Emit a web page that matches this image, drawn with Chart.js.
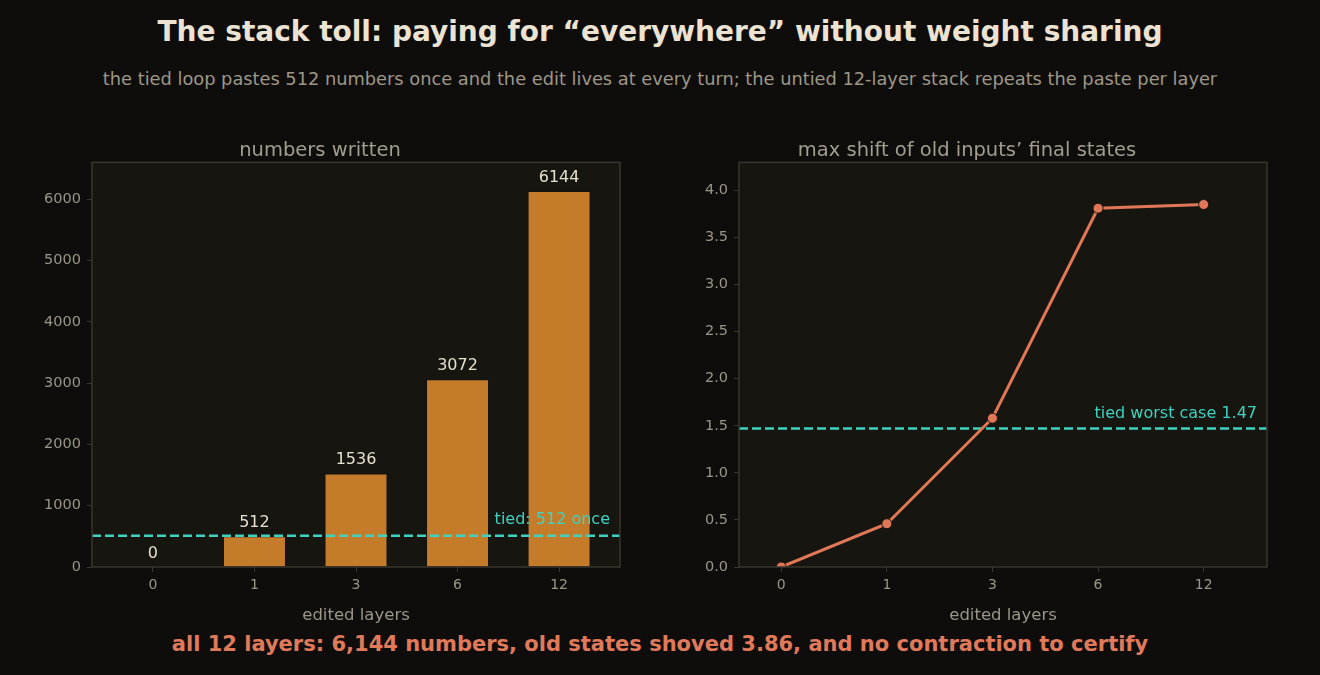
<!DOCTYPE html>
<html>
<head>
<meta charset="utf-8">
<script src="https://cdn.jsdelivr.net/npm/chart.js@4.4.1/dist/chart.umd.min.js"></script>
<style>
  html, body { margin: 0; padding: 0; background: #0e0d0b; width: 1320px; height: 675px; overflow: hidden; font-family: "DejaVu Sans", sans-serif; }
  .txt { position: absolute; left: 0; width: 1320px; text-align: center; white-space: nowrap; }
  #title { top: 15px; font-size: 28px; font-weight: bold; color: #ece3d2; }
  #subtitle { top: 68px; font-size: 17.8px; color: #9e9787; }
  #footer { top: 632px; font-size: 21px; font-weight: bold; color: #e07a5a; }
  .box { position: absolute; top: 135px; width: 610px; height: 495px; }
</style>
</head>
<body>
<div id="title" class="txt">The stack toll: paying for “everywhere” without weight sharing</div>
<div id="subtitle" class="txt">the tied loop pastes 512 numbers once and the edit lives at every turn; the untied 12-layer stack repeats the paste per layer</div>
<div class="box" style="left:20px"><canvas id="left"></canvas></div>
<div class="box" style="left:667px"><canvas id="right"></canvas></div>
<div id="footer" class="txt">all 12 layers: 6,144 numbers, old states shoved 3.86, and no contraction to certify</div>
<script>
const layers = ['0', '1', '3', '6', '12'];
const numbersWritten = [0, 512, 1536, 3072, 6144];
const maxShift = [0, 0.46, 1.58, 3.81, 3.85];
const tiedNumbers = 512;
const tiedWorst = 1.47;
const leftTicks = [0, 1000, 2000, 3000, 4000, 5000, 6000];
const rightTicks = [0, 0.5, 1.0, 1.5, 2.0, 2.5, 3.0, 3.5, 4.0];

const FONT = '"DejaVu Sans", sans-serif';
const tickCol = '#9c9688';
const frameCol = '#3a362e';
const teal = '#3dd3c0';

const panel = {
  id: 'panel',
  beforeDraw(chart) {
    const a = chart.chartArea, c = chart.ctx;
    c.save();
    c.fillStyle = '#16150f';
    c.fillRect(a.left, a.top, a.right - a.left, a.bottom - a.top);
    c.restore();
  },
  afterDraw(chart) {
    const a = chart.chartArea, c = chart.ctx;
    c.save();
    c.strokeStyle = frameCol;
    c.lineWidth = 1.5;
    c.strokeRect(a.left, a.top, a.right - a.left, a.bottom - a.top);
    const notes = chart.options.plugins.panel.notes || [];
    notes.forEach(n => {
      c.font = n.font;
      c.fillStyle = n.color;
      c.textAlign = n.align;
      c.textBaseline = 'alphabetic';
      const x = n.xRight ? a.right - 10 : chart.scales.x.getPixelForValue(n.x);
      c.fillText(n.text, x, chart.scales.y.getPixelForValue(n.y) - n.dy);
    });
    c.restore();
  }
};

function xScale(min, max) {
  return {
    type: 'linear', min: min, max: max, offset: false,
    afterBuildTicks: s => { s.ticks = layers.map((_, i) => ({ value: i })); },
    afterFit: s => { s.height = 63; },
    ticks: { color: tickCol, font: { family: FONT, size: 14 }, padding: 5, callback: v => layers[v] },
    grid: { display: true, drawOnChartArea: false, drawTicks: true, tickLength: 5, color: frameCol, offset: false },
    border: { display: false },
    title: { display: true, text: 'edited layers', color: tickCol, font: { family: FONT, size: 16.5 }, padding: { top: 0 } }
  };
}

function yScale(max, list, fmt) {
  return {
    type: 'linear', min: 0, max: max,
    afterBuildTicks: s => { s.ticks = list.map(v => ({ value: v })); },
    afterFit: s => { s.width = 72; },
    ticks: { color: tickCol, font: { family: FONT, size: 14.5 }, padding: 6, callback: fmt },
    grid: { display: true, drawOnChartArea: false, drawTicks: true, tickLength: 5, color: frameCol },
    border: { display: false }
  };
}

function titleOpt(text) {
  return { display: true, text: text, color: '#a39d8e', font: { family: FONT, size: 19.5, weight: 'normal' }, padding: { top: 4, bottom: 0 } };
}

const idx = layers.map((_, i) => i);

new Chart(document.getElementById('left'), {
  type: 'bar',
  data: {
    datasets: [
      {
        type: 'line',
        data: [{ x: -0.6, y: tiedNumbers }, { x: 4.6, y: tiedNumbers }],
        borderColor: teal, borderWidth: 2.5, borderDash: [9, 4], pointRadius: 0, order: 0
      },
      {
        data: idx.map(i => ({ x: i, y: numbersWritten[i] })),
        backgroundColor: '#c47c2b', borderColor: '#15130f', borderWidth: 1.5,
        barPercentage: 0.63, categoryPercentage: 1, order: 1
      }
    ]
  },
  options: {
    responsive: true, maintainAspectRatio: false, animation: false,
    layout: { padding: { right: 10, left: 0, top: 0, bottom: 0 } },
    scales: { x: xScale(-0.6, 4.6), y: yScale(6603, leftTicks, v => String(Math.round(v))) },
    plugins: {
      legend: { display: false }, tooltip: { enabled: false },
      title: titleOpt('numbers written'),
      panel: {
        notes: numbersWritten.map((v, i) => ({ text: String(v), x: i, y: v, dy: 9, font: '16px ' + FONT, color: '#e8e0cf', align: 'center' }))
          .concat([{ text: 'tied: 512 once', xRight: true, y: tiedNumbers, dy: 12, font: '16px ' + FONT, color: teal, align: 'right' }])
      }
    }
  },
  plugins: [panel]
});

new Chart(document.getElementById('right'), {
  type: 'line',
  data: {
    datasets: [
      {
        data: idx.map(i => ({ x: i, y: maxShift[i] })),
        borderColor: '#e07858', borderWidth: 3, pointRadius: 5,
        pointBackgroundColor: '#e07858', pointBorderColor: '#1c1510', pointBorderWidth: 1, order: 0
      },
      {
        data: [{ x: -0.4, y: tiedWorst }, { x: 4.6, y: tiedWorst }],
        borderColor: teal, borderWidth: 2.5, borderDash: [9, 4], pointRadius: 0, order: 1
      }
    ]
  },
  options: {
    responsive: true, maintainAspectRatio: false, animation: false,
    layout: { padding: { right: 10, left: 0, top: 0, bottom: 0 } },
    scales: { x: xScale(-0.4, 4.6), y: yScale(4.297, rightTicks, v => v.toFixed(1)) },
    plugins: {
      legend: { display: false }, tooltip: { enabled: false },
      title: titleOpt('max shift of old inputs’ final states'),
      panel: {
        notes: [{ text: 'tied worst case 1.47', xRight: true, y: tiedWorst, dy: 11, font: '16px ' + FONT, color: teal, align: 'right' }]
      }
    }
  },
  plugins: [panel]
});
</script>
</body>
</html>
